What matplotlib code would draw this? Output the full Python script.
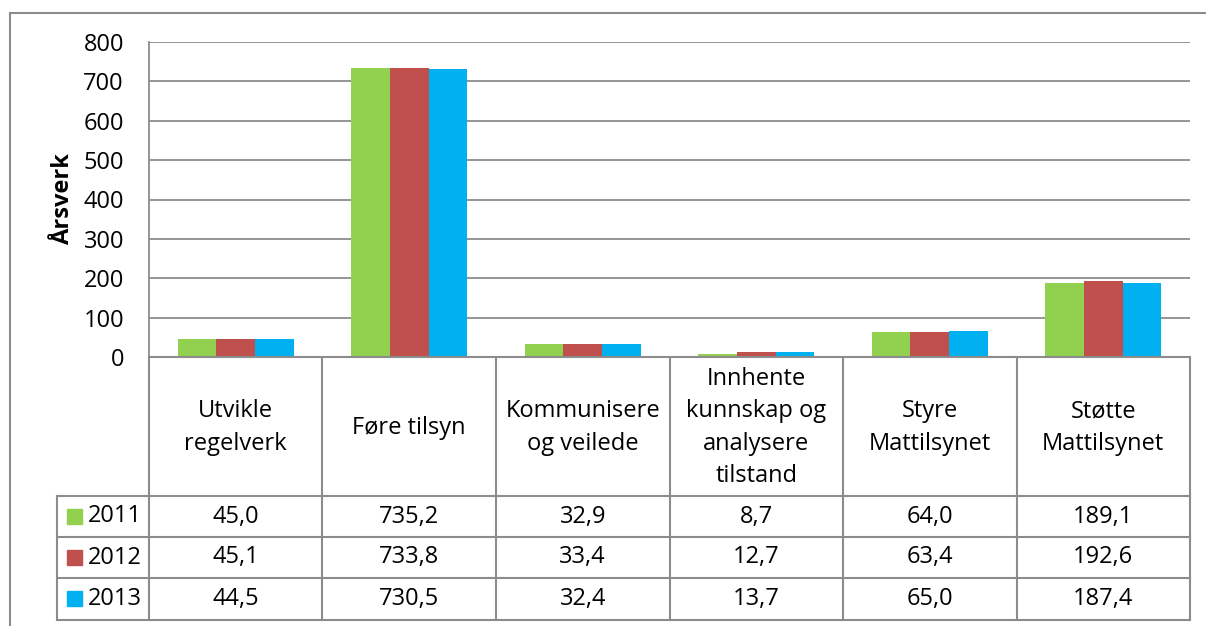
import matplotlib
matplotlib.use("Agg")
import matplotlib.pyplot as plt
from matplotlib.lines import Line2D
from matplotlib.patches import Rectangle

plt.rcParams["font.family"] = ["Open Sans", "DejaVu Sans"]

# data
categories = [
    "Utvikle\nregelverk",
    "Føre tilsyn",
    "Kommunisere\nog veilede",
    "Innhente\nkunnskap og\nanalysere\ntilstand",
    "Styre\nMattilsynet",
    "Støtte\nMattilsynet",
]
years = ["2011", "2012", "2013"]
v2011 = [45.0, 735.2, 32.9, 8.7, 64.0, 189.1]
v2012 = [45.1, 733.8, 33.4, 12.7, 63.4, 192.6]
v2013 = [44.5, 730.5, 32.4, 13.7, 65.0, 187.4]
series = [v2011, v2012, v2013]
colors = ["#92D050", "#C0504D", "#00B0F0"]
yticks = [0, 100, 200, 300, 400, 500, 600, 700, 800]

W, H = 1206, 626
GRAY = "#8C8C8C"
FS = 17

fig = plt.figure(figsize=(W / 100, H / 100), dpi=100)


def fx(px):
    return px / W


def fy(py):
    return 1 - py / H


# plot area in pixels
left, right, top, bottom = 149, 1190, 42, 357
ax = fig.add_axes([fx(left), fy(bottom), fx(right - left), fy(top) - fy(bottom)])

n = len(categories)
bw = 0.222
for i, (vals, c) in enumerate(zip(series, colors)):
    xs = [k + (i - 1) * bw for k in range(n)]
    ax.bar(xs, vals, width=bw, color=c, zorder=3)

ax.set_xlim(-0.5, n - 0.5)
ax.set_ylim(0, 800)
ax.set_yticks(yticks)
ax.set_yticklabels([str(t) for t in yticks], fontsize=FS)
ax.set_xticks([])
ax.tick_params(axis="y", length=0, pad=18)
ax.grid(axis="y", color=GRAY, linewidth=1.3, zorder=0)
for s in ["top", "right", "bottom"]:
    ax.spines[s].set_visible(False)
ax.spines["left"].set_color(GRAY)
ax.spines["left"].set_linewidth(1.3)
ax.set_ylabel("Årsverk", fontsize=FS, fontweight="bold")
ax.yaxis.set_label_coords(-0.071, 0.5)

# data table below the plot
col_w = (right - left) / n
bounds = [left + k * col_w for k in range(n + 1)]
row_y = [357, 496, 537, 578, 620]
leg_left = 57


def hline(x0, x1, y):
    fig.add_artist(Line2D([fx(x0), fx(x1)], [fy(y), fy(y)], color=GRAY, lw=1.5))


def vline(x, y0, y1):
    fig.add_artist(Line2D([fx(x), fx(x)], [fy(y0), fy(y1)], color=GRAY, lw=1.5))


hline(left, right, row_y[0])
for y in row_y[1:]:
    hline(leg_left, right, y)
for x in bounds:
    vline(x, row_y[0], row_y[-1])
vline(leg_left, row_y[1], row_y[-1])

for k, name in enumerate(categories):
    cx = (bounds[k] + bounds[k + 1]) / 2
    fig.text(fx(cx), fy((row_y[0] + row_y[1]) / 2 + 1), name, ha="center",
             va="center", fontsize=FS, linespacing=1.45)
    for r, vals in enumerate(series):
        cy = (row_y[r + 1] + row_y[r + 2]) / 2
        fig.text(fx(cx), fy(cy), f"{vals[k]:.1f}".replace(".", ","),
                 ha="center", va="center", fontsize=FS)

for r, (yr, c) in enumerate(zip(years, colors)):
    cy = (row_y[r + 1] + row_y[r + 2]) / 2
    fig.add_artist(Rectangle((fx(67), fy(cy + 7)), fx(15), fy(0) - fy(15),
                             color=c, transform=fig.transFigure))
    fig.text(fx(88), fy(cy), yr, ha="left", va="center", fontsize=FS)

# outer chart border
fig.add_artist(Line2D([fx(10), fx(10)], [fy(13), 0], color=GRAY, lw=1.5))
fig.add_artist(Line2D([fx(10), 1], [fy(13), fy(13)], color=GRAY, lw=1.5))

fig.savefig("out.png", dpi=100)
